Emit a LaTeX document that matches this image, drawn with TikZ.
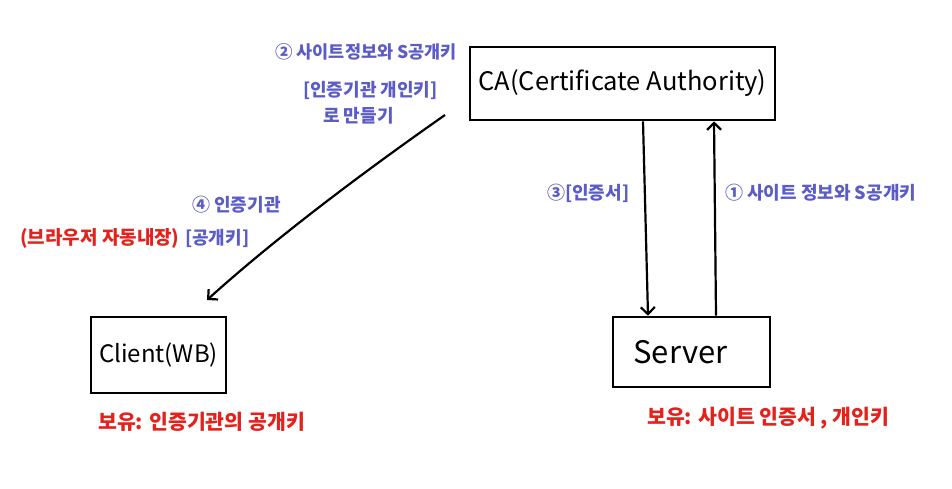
\documentclass[tikz,border=0pt]{standalone}
\usepackage{fontspec}
\setmainfont{Noto Sans CJK KR}
\usetikzlibrary{arrows.meta}
\definecolor{bluepen}{HTML}{5C5CC9}
\definecolor{redpen}{HTML}{E5211B}
\begin{document}
\begin{tikzpicture}[x=1pt,y=-1pt,
  box/.style={draw, line width=2.6pt, rectangle, inner sep=0pt},
  arr/.style={line width=2.2pt, -{Straight Barb[length=7pt,width=14pt,line width=2.2pt]}},
  bluetxt/.style={text=bluepen, anchor=west, inner sep=0pt, font=\fontsize{18}{21}\selectfont\bfseries},
  redtxt/.style={text=redpen, anchor=west, inner sep=0pt, font=\fontsize{20.5}{24}\selectfont\bfseries}]
\useasboundingbox (0,0) rectangle (952,489);
\fill[white] (0,0) rectangle (952,489);

% boxes
\node[box, minimum width=305pt, minimum height=73pt, font=\fontsize{25.5}{30}\selectfont] (CA) at (622.5,83.5) {CA(Certificate Authority)};
\node[box, minimum width=157pt, minimum height=70pt, font=\fontsize{31}{36}\selectfont, text width=140pt, align=left] (Server) at (691.5,352) {\hspace*{12pt}Server};
\node[box, minimum width=135pt, minimum height=76pt, font=\fontsize{24}{28}\selectfont] (Client) at (158.5,355) {Client(WB)};

% arrows
\draw[arr] ([xshift=20.5pt]CA.south) -- ([xshift=-43.5pt]Server.north);
\draw[arr] ([xshift=24.5pt]Server.north) -- ([xshift=91.5pt]CA.south);
\coordinate (dstart) at (445,115);
\coordinate (dend) at (207,300);
\draw[arr] (dstart) .. controls (395,150) and (290,225) .. (dend);

% blue labels
\node[bluetxt, font=\fontsize{17.5}{21}\selectfont\bfseries] (l2a) at (275,52) {② 사이트정보와 S공개키};
\node[bluetxt] (l2b) at (303,90) {[인증기관 개인키]};
\node[bluetxt] (l2c) at (323,116) {로 만들기};
\node[bluetxt] (l4a) at (192,205) {④ 인증기관};
\node[bluetxt] (l4b) at (185,238) {[공개키]};
\node[bluetxt] (l3) at (547,193) {③[인증서]};
\node[bluetxt] (l1) at (725,193) {① 사이트 정보와 S공개키};

% red labels
\node[redtxt, font=\fontsize{19}{22}\selectfont\bfseries] (r4) at (20,238) {(브라우저 자동내장)};
\node[redtxt] (rc) at (98,422) {보유: 인증기관의 공개키};
\node[redtxt] (rs) at (647,418) {보유: 사이트 인증서 , 개인키};
\end{tikzpicture}
\end{document}
